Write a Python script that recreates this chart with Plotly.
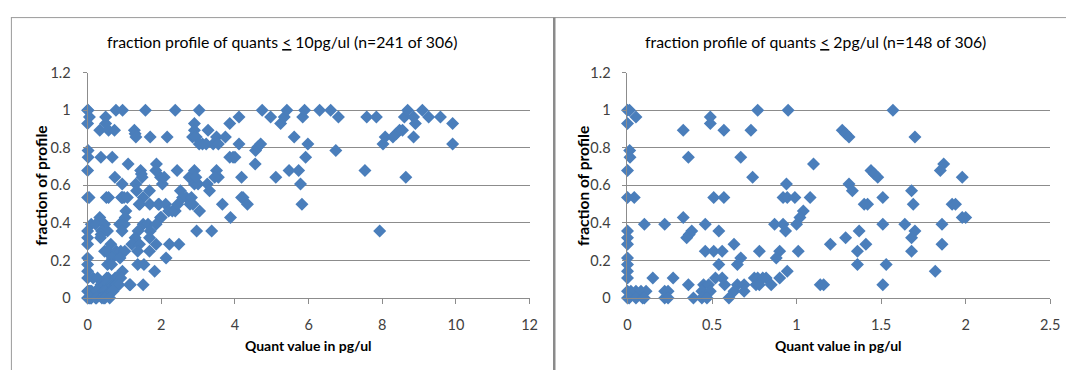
import plotly.graph_objects as go

# ---------------- data ----------------
# quants <= 2 pg/ul (shown in both panels)
quant_low = [
    0.0, 0.012, 0.77, 0.95, 1.57,
    0.05, 0.49,
    0.0, 0.49,
    0.33, 0.57, 0.73, 1.27,
    1.29,
    1.31, 1.70,
    0.013,
    0.015, 0.36, 0.67,
    1.10, 1.87,
    0.0, 1.44, 1.85,
    1.46,
    0.74, 1.48, 1.98,
    0.94, 1.31,
    1.33, 1.68,
    0.0, 0.04, 0.51, 0.57, 0.92, 0.945, 0.99, 1.08, 1.51,
    1.40, 1.42, 1.69, 1.92, 1.94,
    1.04,
    0.33, 1.02, 1.98, 2.00,
    0.10, 0.22, 0.46, 0.87, 0.92, 1.00, 1.51, 1.64, 1.86,
    0.0, 0.38, 0.54, 0.935, 1.37, 1.70,
    0.365,
    0.0, 0.35, 1.29, 1.68,
    0.0, 0.63, 1.20, 1.41, 1.86,
    0.46, 0.51, 0.56, 0.78, 0.90, 1.01, 1.36, 1.68,
    0.0, 0.67, 0.88,
    0.0, 0.54, 0.65, 1.36, 1.53,
    0.0, 0.945, 1.82,
    0.0, 0.15, 0.27, 0.52, 0.56, 0.75, 0.77, 0.80, 0.82, 0.90,
    0.36, 0.45, 0.48, 0.575, 0.65, 0.69, 0.76, 0.78, 0.85, 1.14, 1.16, 1.51,
    0.0, 0.02, 0.05, 0.08, 0.11, 0.22, 0.24, 0.44, 0.49, 0.63, 0.69,
    0.0, 0.01, 0.05, 0.09, 0.10, 0.22, 0.24, 0.39, 0.44, 0.47, 0.60,
]
frac_low = [
    1.0, 1.0, 1.0, 1.0, 1.0,
    0.964, 0.964,
    0.929, 0.929,
    0.893, 0.893, 0.893, 0.893,
    0.875,
    0.857, 0.857,
    0.786,
    0.75, 0.75, 0.75,
    0.714, 0.714,
    0.679, 0.679, 0.679,
    0.661,
    0.643, 0.643, 0.643,
    0.607, 0.607,
    0.571, 0.571,
    0.536, 0.536, 0.536, 0.536, 0.536, 0.536, 0.536, 0.536, 0.536,
    0.5, 0.5, 0.5, 0.5, 0.5,
    0.464,
    0.429, 0.429, 0.429, 0.429,
    0.393, 0.393, 0.393, 0.393, 0.393, 0.393, 0.393, 0.393, 0.393,
    0.357, 0.357, 0.357, 0.357, 0.357, 0.357,
    0.339,
    0.321, 0.321, 0.321, 0.321,
    0.286, 0.286, 0.286, 0.286, 0.286,
    0.25, 0.25, 0.25, 0.25, 0.25, 0.25, 0.25, 0.25,
    0.214, 0.214, 0.214,
    0.179, 0.179, 0.179, 0.179, 0.179,
    0.143, 0.143, 0.143,
    0.107, 0.107, 0.107, 0.107, 0.107, 0.107, 0.107, 0.107, 0.107, 0.107,
    0.071, 0.071, 0.071, 0.071, 0.071, 0.071, 0.071, 0.071, 0.071, 0.071, 0.071, 0.071,
    0.036, 0.036, 0.036, 0.036, 0.036, 0.036, 0.036, 0.036, 0.036, 0.036, 0.036,
    0.0, 0.0, 0.0, 0.0, 0.0, 0.0, 0.0, 0.0, 0.0, 0.0, 0.0,
]

# quants between 2 and 10 pg/ul (left panel only)
quant_high = [2.03, 2.08, 2.12, 2.16, 2.13, 2.22, 2.48, 2.20, 2.30, 2.38,
              2.45, 2.38, 2.43, 2.52, 2.58, 2.68, 2.78, 2.82, 2.86, 2.76,
              2.85, 2.90, 2.90, 3.00, 2.94, 2.90, 2.90, 2.85, 2.95, 3.03,
              3.03, 3.04, 2.96, 3.37, 3.12, 3.22, 3.27, 3.41, 3.50, 3.55,
              3.74, 3.86, 4.11, 4.11, 3.86, 3.95, 4.00, 3.88, 3.66, 3.50,
              3.55, 3.45, 3.25, 3.31, 4.18, 4.18, 4.22, 4.34, 4.55, 4.56,
              4.62, 4.70, 4.74, 4.97, 5.11, 5.24, 5.34, 5.41, 5.47, 5.61,
              5.73, 5.78, 5.82, 5.84, 5.89, 5.92, 5.98, 6.30, 6.60, 6.81,
              6.74, 7.53, 7.58, 7.84, 7.93, 8.02, 8.08, 8.29, 8.38, 8.47,
              8.55, 8.60, 8.69, 8.85, 8.90, 8.85, 8.64, 9.09, 9.26, 9.58,
              9.91, 9.91]
frac_high = [0.607, 0.643, 0.5, 0.857, 0.214, 0.286, 0.286, 0.464, 0.464, 0.464,
             0.5, 1.0, 0.679, 0.571, 0.536, 0.536, 0.5, 0.536, 0.5, 0.643,
             0.643, 0.679, 0.607, 0.607, 0.643, 0.929, 0.893, 0.857, 0.857, 0.821,
             1.0, 0.464, 0.357, 0.357, 0.821, 0.821, 0.893, 0.821, 0.857, 0.821,
             0.857, 0.929, 0.964, 0.821, 0.75, 0.75, 0.75, 0.429, 0.5, 0.679,
             0.643, 0.643, 0.607, 0.571, 0.643, 0.536, 0.536, 0.5, 0.714, 0.786,
             0.804, 0.821, 1.0, 0.964, 0.643, 0.929, 0.964, 1.0, 0.679, 0.857,
             0.679, 0.607, 0.5, 0.964, 1.0, 0.75, 0.821, 1.0, 1.0, 0.964,
             0.786, 0.679, 0.964, 0.964, 0.357, 0.821, 0.857, 0.857, 0.875, 0.893,
             0.893, 0.964, 1.0, 0.964, 0.929, 0.857, 0.643, 1.0, 0.964, 0.964,
             0.929, 0.821]

title_left = "fraction profile of quants <u>&lt;</u> 10pg/ul (n=241 of 306)"
title_right = "fraction profile of quants <u>&lt;</u> 2pg/ul (n=148 of 306)"
x_title = "Quant value in pg/ul"
y_title = "fraction of profile"
x_range_left = [0, 12]
x_range_right = [0, 2.5]
y_range = [0, 1.2]

# ---------------- styling ----------------
W, H = 1076, 378
FONT = "Lato"
BLUE = "#4A7EBB"
GRID = "#8C8C8C"
TXT = "#404040"

def px(x):
    return x / W

def py(y):
    return 1 - y / H

fig = go.Figure()
marker = dict(symbol="diamond", size=10, color=BLUE, line=dict(width=0))
fig.add_trace(go.Scatter(x=quant_low + quant_high, y=frac_low + frac_high,
                         mode="markers", marker=marker, cliponaxis=False,
                         xaxis="x", yaxis="y", showlegend=False))
fig.add_trace(go.Scatter(x=quant_low, y=frac_low, mode="markers", marker=marker,
                         cliponaxis=False, xaxis="x2", yaxis="y2", showlegend=False))

ydom = [py(302.7), py(66.7)]
common_x = dict(showgrid=False, zeroline=False, showline=True, linecolor=GRID,
                linewidth=1, ticks="outside", ticklen=5, tickcolor=GRID,
                ticklabelstandoff=9,
                tickfont=dict(family=FONT, size=14.5, color=TXT))
common_y = dict(showgrid=True, gridcolor=GRID, gridwidth=1, zeroline=False,
                showline=True, linecolor=GRID, linewidth=1, ticks="outside",
                ticklen=4, tickcolor=GRID, range=y_range, dtick=0.2, tick0=0,
                ticklabelstandoff=9,
                tickfont=dict(family=FONT, size=14.5, color=TXT))

fig.update_layout(
    width=W, height=H, margin=dict(l=0, r=0, t=0, b=0),
    paper_bgcolor="white", plot_bgcolor="white",
    xaxis=dict(domain=[px(84.7), px(532.5)], range=x_range_left, dtick=2, tick0=0,
               anchor="y", **common_x),
    yaxis=dict(domain=ydom, anchor="x", **common_y),
    xaxis2=dict(domain=[px(631.7), px(1060)], range=x_range_right, dtick=0.5, tick0=0,
                anchor="y2", **common_x),
    yaxis2=dict(domain=ydom, anchor="x2", **common_y),
)

ann = []
for cx, t in [(282, title_left), (822, title_right)]:
    ann.append(dict(text=t, x=px(cx), y=py(34), xref="paper", yref="paper",
                    xanchor="center", yanchor="middle", showarrow=False,
                    font=dict(family=FONT, size=15.8, color="black")))
for cx in [308.6, 845.9]:
    ann.append(dict(text="<b>" + x_title + "</b>", x=px(cx), y=py(352), xref="paper",
                    yref="paper", xanchor="center", yanchor="middle", showarrow=False,
                    font=dict(family=FONT, size=14, color="black")))
for cx in [37.5, 586]:
    ann.append(dict(text="<b>" + y_title + "</b>", x=px(cx), y=py(185), xref="paper",
                    yref="paper", xanchor="center", yanchor="middle", showarrow=False,
                    textangle=-90, font=dict(family=FONT, size=15.5, color="black")))
fig.update_layout(annotations=ann)

shapes = [
    dict(type="line", xref="paper", yref="paper", x0=px(7), x1=1, y0=py(9), y1=py(9),
         line=dict(color="#9A9A9A", width=1)),
    dict(type="line", xref="paper", yref="paper", x0=px(7.5), x1=px(7.5), y0=py(9), y1=0,
         line=dict(color="#9A9A9A", width=1)),
    dict(type="line", xref="paper", yref="paper", x0=px(557.5), x1=px(557.5), y0=py(9), y1=0,
         line=dict(color="#8A8A8A", width=2.5)),
]
fig.update_layout(shapes=shapes)

fig.write_html("out.html")
